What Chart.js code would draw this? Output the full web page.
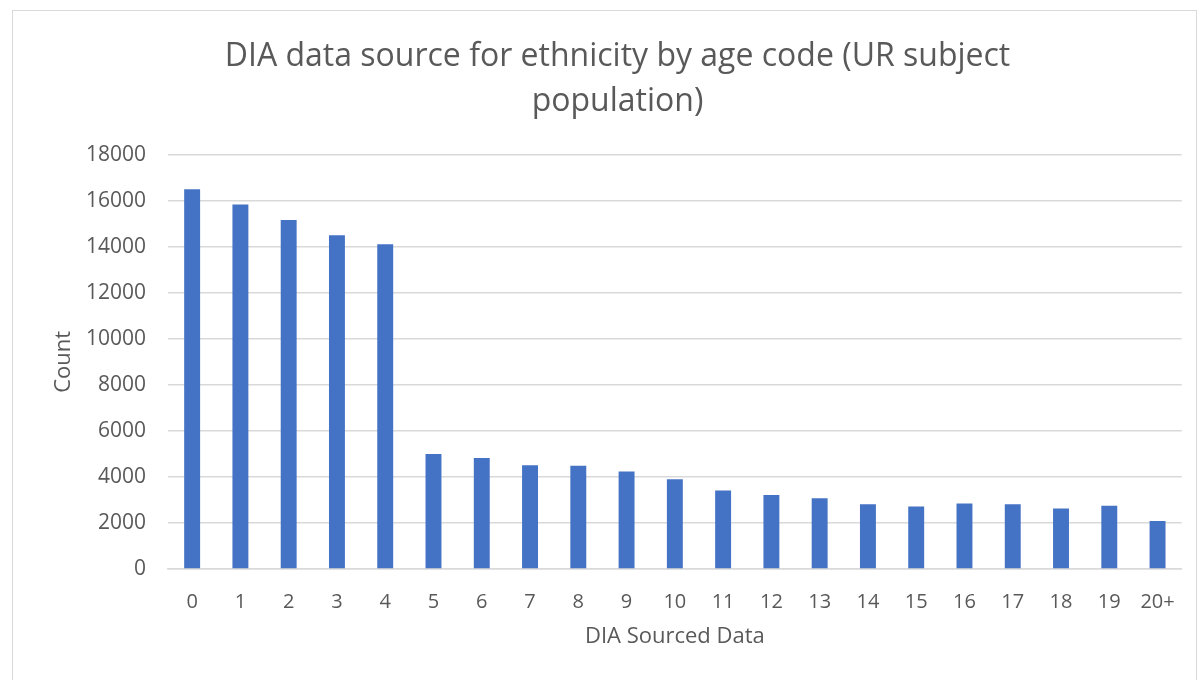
<!DOCTYPE html>
<html>
<head>
<meta charset="utf-8">
<script src="https://cdn.jsdelivr.net/npm/chart.js@4/dist/chart.umd.min.js"></script>
<style>
  html, body { margin: 0; padding: 0; background: #fff; overflow: hidden; }
  .frame {
    position: absolute; left: 12px; top: 10px;
    width: 1185px; height: 690px;
    border: 1px solid #d9d9d9; box-sizing: border-box;
  }
  .frame canvas { position: absolute; left: 0; top: 0; }
</style>
</head>
<body>
<div class="frame"><canvas id="ageChart" width="1183" height="669"></canvas></div>
<script>
// Age codes along the x axis
const ageCodes = ['0', '1', '2', '3', '4', '5', '6', '7', '8', '9', '10',
  '11', '12', '13', '14', '15', '16', '17', '18', '19', '20+'];

// Count of DIA-sourced records per age code
const counts = [16500, 15830, 15160, 14500, 14110, 5000, 4820, 4510, 4480, 4240, 3900,
  3410, 3210, 3070, 2810, 2720, 2850, 2810, 2630, 2750, 2080];

const titleLines = ['DIA data source for ethnicity by age code (UR subject', 'population)'];
const yTitle = 'Count';
const xTitle = 'DIA Sourced Data';

const textGrey = '#595959';
const gridGrey = '#d9d9d9';
const barBlue = '#4472c4';
const fontFamily = "'Open Sans', sans-serif";

new Chart(document.getElementById('ageChart'), {
  type: 'bar',
  data: {
    labels: ageCodes,
    datasets: [{
      label: yTitle,
      data: counts,
      backgroundColor: barBlue,
      borderWidth: 0,
      barPercentage: 0.66,
      categoryPercentage: 0.5
    }]
  },
  options: {
    responsive: false,
    animation: false,
    layout: { padding: { left: 38, right: 12, top: 12, bottom: 30 } },
    plugins: {
      legend: { display: false },
      tooltip: { enabled: false },
      title: {
        display: true,
        text: titleLines,
        color: textGrey,
        font: { family: fontFamily, size: 32, weight: 'normal', lineHeight: 1.4 },
        padding: { top: 11.5, bottom: 30.5 }
      }
    },
    scales: {
      x: {
        grid: { display: false, drawTicks: false },
        border: { display: true, color: gridGrey, width: 1.5 },
        ticks: { color: textGrey, font: { family: fontFamily, size: 20 }, padding: 21, maxRotation: 0, autoSkip: false },
        title: { display: true, text: xTitle, color: textGrey, font: { family: fontFamily, size: 22 }, padding: 0 },
        afterFit: s => { s.height = 81; }
      },
      y: {
        min: 0,
        max: 18000,
        ticks: {
          stepSize: 2000,
          color: textGrey,
          font: { family: fontFamily, size: 21 },
          padding: 22,
          callback: v => String(v)
        },
        grid: { color: gridGrey, lineWidth: 1.5, drawTicks: false },
        border: { display: false },
        title: { display: true, text: yTitle, color: textGrey, font: { family: fontFamily, size: 22 }, padding: 0 },
        afterFit: s => { s.width = 117; }
      }
    }
  }
});
</script>
</body>
</html>
